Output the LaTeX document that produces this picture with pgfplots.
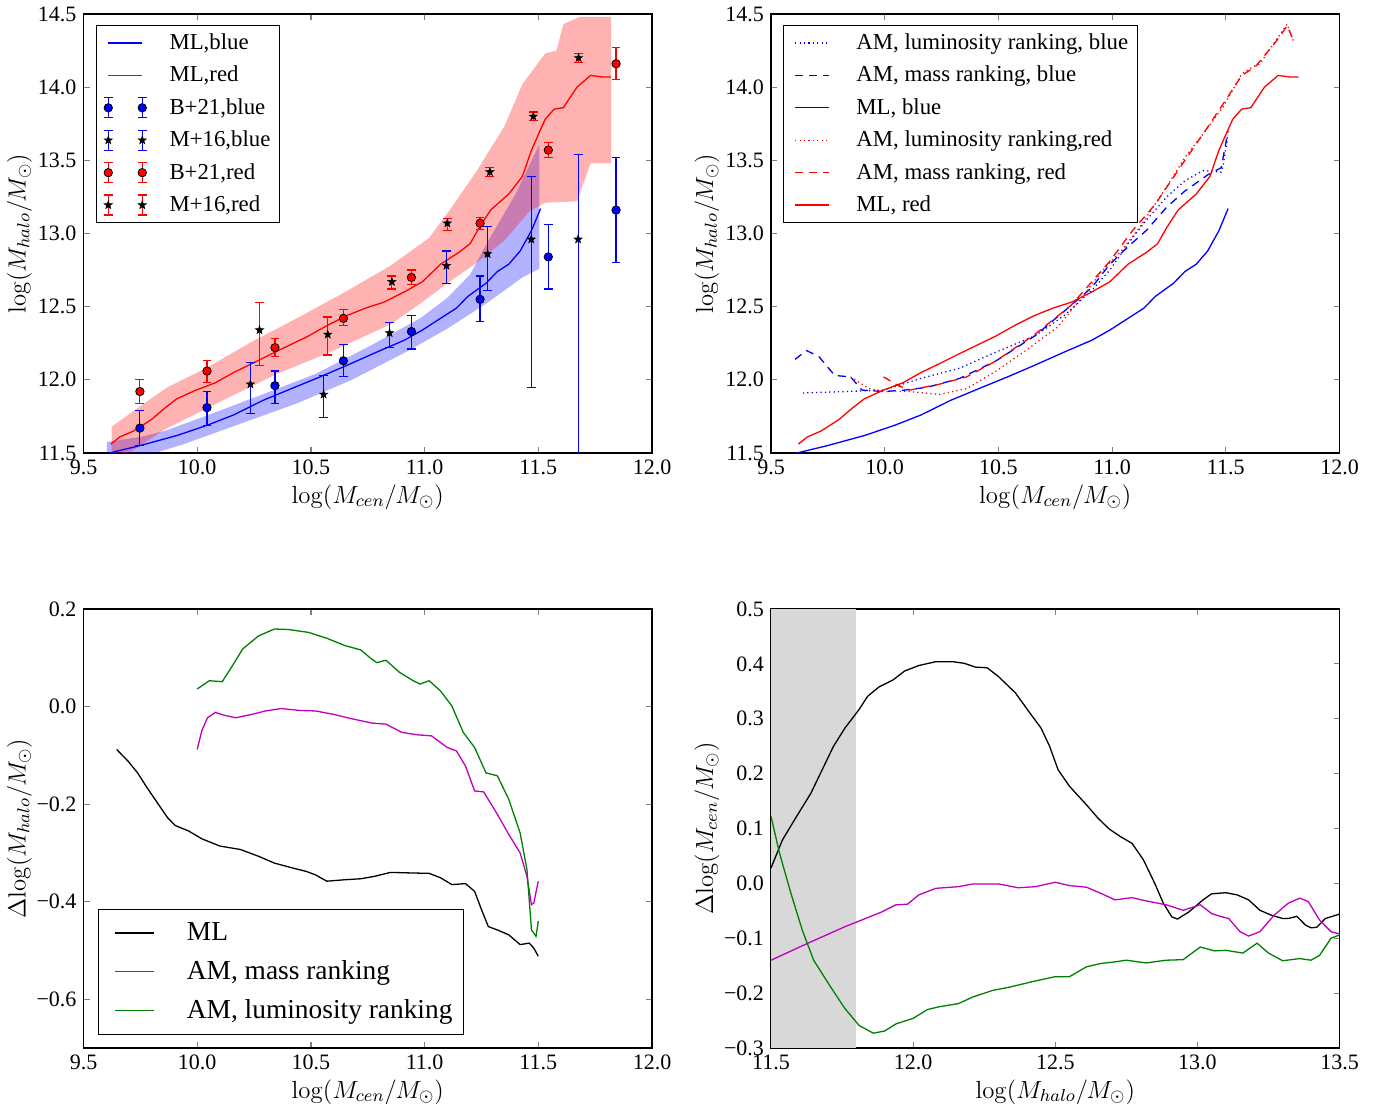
\RequirePackage{fix-cm}
\documentclass[border=0pt]{standalone}
\usepackage[no-math]{fontspec}
\setmainfont{Liberation Serif}
\usepackage{pgfplots}
\pgfplotsset{compat=1.18}
\definecolor{mplgreen}{rgb}{0,0.5,0}
\definecolor{mplmag}{rgb}{0.75,0,0.75}
\definecolor{bandgray}{RGB}{216,216,216}
\newcommand\lbl[1]{\fontsize{12.4}{15}\selectfont$#1$}
\pgfdeclareplotmark{fstar}{%
  \pgfpathmoveto{\pgfpointpolar{90}{\pgfplotmarksize}}%
  \pgfpathlineto{\pgfpointpolar{126}{0.4\pgfplotmarksize}}%
  \pgfpathlineto{\pgfpointpolar{162}{\pgfplotmarksize}}%
  \pgfpathlineto{\pgfpointpolar{198}{0.4\pgfplotmarksize}}%
  \pgfpathlineto{\pgfpointpolar{234}{\pgfplotmarksize}}%
  \pgfpathlineto{\pgfpointpolar{270}{0.4\pgfplotmarksize}}%
  \pgfpathlineto{\pgfpointpolar{306}{\pgfplotmarksize}}%
  \pgfpathlineto{\pgfpointpolar{342}{0.4\pgfplotmarksize}}%
  \pgfpathlineto{\pgfpointpolar{18}{\pgfplotmarksize}}%
  \pgfpathlineto{\pgfpointpolar{54}{0.4\pgfplotmarksize}}%
  \pgfpathclose
  \pgfusepathqfillstroke
}
\pgfplotsset{
  legend image code/.code={\path (-3pt,0pt); \draw[#1] (0pt,0pt) -- (17pt,0pt); \path (28.3pt,0pt);},
  leg3/.style={legend image code/.code={\path (-4.5pt,0pt); \draw[##1] (0pt,0pt) -- (19.5pt,0pt); \path (33.5pt,0pt);}},
  ebars/.style={draw=none, mark=none, forget plot,
    error bars/.cd, y dir=both, y explicit,
    error bar style={draw=#1, line width=0.6pt},
    error mark options={rotate=90, draw=#1, mark size=2.2pt, line width=0.6pt}},
  every axis/.append style={
    scale only axis,
    width=284.25pt, height=219.5pt,
    axis line style={line width=0.6pt},
    tick style={line width=0.6pt},
    major tick length=3pt,
    tick label style={font=\fontsize{11}{13}\selectfont},
    every axis x label/.style={at={(axis description cs:0.5,0)}, yshift=-22pt, anchor=center},
    every axis y label/.style={at={(axis description cs:0,0.5)}, xshift=-32pt, rotate=90, anchor=center},
    legend cell align=left,
    legend style={draw=black, line width=0.6pt, font=\fontsize{11.4}{13.5}\selectfont, inner xsep=2.5pt, inner ysep=2pt, row sep=2.8pt, nodes={inner sep=2pt}},
  },
  every axis plot/.append style={line width=0.65pt},
}
\begin{document}
\begin{tikzpicture}
\useasboundingbox (0pt,0pt) rectangle (692.5pt,554pt);

%% ---------------- Panel 1 ----------------
\begin{axis}[at={(41.75pt,327.5pt)}, anchor=south west,
  xmin=9.5, xmax=12, ymin=11.5, ymax=14.5,
  xtick={9.5,10,10.5,11,11.5,12}, xticklabels={9.5,10.0,10.5,11.0,11.5,12.0},
  ytick={11.5,12,12.5,13,13.5,14,14.5}, yticklabels={11.5,12.0,12.5,13.0,13.5,14.0,14.5},
  xlabel={\lbl{\log(M_{cen}/M_\odot)}}, ylabel={\lbl{\log(M_{halo}/M_\odot)}},
  legend style={at={(0.022,0.975)}, anchor=north west},
]
\addplot[draw=none, fill=blue, fill opacity=0.3, forget plot] coordinates {
(9.603,11.575) (9.75,11.61) (9.856,11.65) (10.05,11.76) (10.27,11.89) (10.52,12.04) (10.77,12.24) (10.98,12.42) (11.10,12.56) (11.20,12.72) (11.28,12.95) (11.40,13.27) (11.505,13.61)
(11.505,12.76) (11.43,12.70) (11.27,12.52) (11.10,12.35) (10.93,12.20) (10.68,12.00) (10.44,11.84) (10.19,11.70) (9.94,11.56) (9.75,11.47) (9.603,11.40)
} -- cycle;
\addplot[draw=none, fill=red, fill opacity=0.3, forget plot] coordinates {
(9.624,11.68) (9.75,11.82) (9.87,11.95) (10.04,12.08) (10.24,12.26) (10.45,12.43) (10.65,12.60) (10.85,12.78) (11.02,12.97) (11.12,13.18) (11.23,13.43) (11.35,13.73) (11.43,14.02) (11.53,14.23) (11.58,14.25) (11.61,14.43) (11.68,14.48) (11.82,14.48)
(11.82,13.48) (11.73,13.48) (11.67,13.22) (11.53,13.21) (11.46,13.15) (11.35,12.95) (11.22,12.79) (11.10,12.66) (10.98,12.52) (10.85,12.38) (10.60,12.20) (10.35,12.04) (10.10,11.85) (9.856,11.66) (9.72,11.52) (9.624,11.43)
} -- cycle;
\addplot[draw=blue] coordinates {
(9.614,11.50) (9.747,11.55) (9.912,11.62) (10.045,11.69) (10.16,11.76) (10.29,11.86) (10.43,11.95) (10.54,12.02) (10.66,12.10) (10.79,12.19) (10.91,12.27) (10.99,12.34) (11.07,12.42) (11.14,12.49) (11.19,12.57) (11.27,12.66) (11.32,12.74) (11.37,12.79) (11.42,12.88) (11.47,13.02) (11.51,13.17)
};
\addlegendentry{ML,blue}
\addplot[draw=red] coordinates {
(9.62,11.56) (9.66,11.61) (9.72,11.65) (9.80,11.73) (9.86,11.81) (9.91,11.87) (9.995,11.93) (10.08,11.98) (10.16,12.05) (10.24,12.11) (10.33,12.18) (10.41,12.24) (10.49,12.30) (10.57,12.37) (10.66,12.44) (10.74,12.49) (10.82,12.53) (10.91,12.60) (10.99,12.67) (11.07,12.79) (11.15,12.87) (11.20,12.93) (11.24,13.04) (11.29,13.16) (11.37,13.27) (11.43,13.39) (11.47,13.57) (11.53,13.78) (11.57,13.85) (11.61,13.86) (11.67,14.00) (11.73,14.08) (11.78,14.07) (11.82,14.07)
};
\addlegendentry{ML,red}
\pgfplotstableread{
x y ep em
9.748 11.67 0.12 0.12
10.043 11.81 0.11 0.12
10.342 11.96 0.10 0.12
10.643 12.13 0.11 0.11
10.942 12.33 0.11 0.12
11.244 12.55 0.16 0.15
11.544 12.84 0.22 0.22
11.842 13.16 0.36 0.36
}\Bblue
\pgfplotstableread{
x y ep em
10.234 11.97 0.15 0.20
10.556 11.90 0.13 0.16
10.846 12.32 0.07 0.10
11.096 12.78 0.10 0.12
11.277 12.86 0.19 0.25
11.469 12.96 0.43 1.01
11.675 12.96 0.58 2.00
}\Mblue
\pgfplotstableread{
x y ep em
9.748 11.92 0.08 0.08
10.043 12.06 0.07 0.08
10.342 12.22 0.06 0.06
10.643 12.42 0.06 0.05
10.942 12.70 0.05 0.05
11.244 13.07 0.04 0.04
11.544 13.57 0.05 0.05
11.842 14.16 0.11 0.11
}\Bred
\pgfplotstableread{
x y ep em
10.274 12.34 0.19 0.24
10.574 12.31 0.12 0.14
10.856 12.67 0.04 0.05
11.100 13.07 0.03 0.05
11.287 13.42 0.03 0.03
11.478 13.80 0.03 0.03
11.677 14.20 0.03 0.03
}\Mred
\addplot[ebars=blue] table[x=x, y=y, y error plus=ep, y error minus=em] {\Bblue};
\addplot[ebars=blue] table[x=x, y=y, y error plus=ep, y error minus=em] {\Mblue};
\addplot[ebars=red] table[x=x, y=y, y error plus=ep, y error minus=em] {\Bred};
\addplot[ebars=red] table[x=x, y=y, y error plus=ep, y error minus=em] {\Mred};
\addplot[only marks, mark=*, mark size=2.1pt, mark options={fill=blue, draw=black, line width=0.4pt},
  legend image code/.code={\path (-3pt,0pt);
    \draw[draw=blue,line width=0.6pt] (0pt,-5pt) -- (0pt,5pt) (-2.2pt,-5pt) -- (2.2pt,-5pt) (-2.2pt,5pt) -- (2.2pt,5pt) (17pt,-5pt) -- (17pt,5pt) (14.8pt,-5pt) -- (19.2pt,-5pt) (14.8pt,5pt) -- (19.2pt,5pt);
    \filldraw[fill=blue,draw=black,line width=0.4pt] (0pt,0pt) circle (2.1pt) (17pt,0pt) circle (2.1pt);
    \path (28.3pt,0pt);}]
  table[x=x, y=y] {\Bblue};
\addlegendentry{B+21,blue}
\addplot[only marks, mark=fstar, mark size=2.1pt, mark options={fill=black, draw=black, line width=0.3pt},
  legend image code/.code={\path (-3pt,0pt);
    \draw[draw=blue,line width=0.6pt] (0pt,-5pt) -- (0pt,5pt) (-2.2pt,-5pt) -- (2.2pt,-5pt) (-2.2pt,5pt) -- (2.2pt,5pt) (17pt,-5pt) -- (17pt,5pt) (14.8pt,-5pt) -- (19.2pt,-5pt) (14.8pt,5pt) -- (19.2pt,5pt);
    \begin{scope}\pgfsetfillcolor{black}\pgfsetstrokecolor{black}\pgfsetlinewidth{0.3pt}\pgfsetplotmarksize{2.1pt}\pgfuseplotmark{fstar}\end{scope}
    \begin{scope}[xshift=17pt]\pgfsetfillcolor{black}\pgfsetstrokecolor{black}\pgfsetlinewidth{0.3pt}\pgfsetplotmarksize{2.1pt}\pgfuseplotmark{fstar}\end{scope}
    \path (28.3pt,0pt);}]
  table[x=x, y=y] {\Mblue};
\addlegendentry{M+16,blue}
\addplot[only marks, mark=*, mark size=2.1pt, mark options={fill=red, draw=black, line width=0.4pt},
  legend image code/.code={\path (-3pt,0pt);
    \draw[draw=red,line width=0.6pt] (0pt,-5pt) -- (0pt,5pt) (-2.2pt,-5pt) -- (2.2pt,-5pt) (-2.2pt,5pt) -- (2.2pt,5pt) (17pt,-5pt) -- (17pt,5pt) (14.8pt,-5pt) -- (19.2pt,-5pt) (14.8pt,5pt) -- (19.2pt,5pt);
    \filldraw[fill=red,draw=black,line width=0.4pt] (0pt,0pt) circle (2.1pt) (17pt,0pt) circle (2.1pt);
    \path (28.3pt,0pt);}]
  table[x=x, y=y] {\Bred};
\addlegendentry{B+21,red}
\addplot[only marks, mark=fstar, mark size=2.1pt, mark options={fill=black, draw=black, line width=0.3pt},
  legend image code/.code={\path (-3pt,0pt);
    \draw[draw=red,line width=0.6pt] (0pt,-5pt) -- (0pt,5pt) (-2.2pt,-5pt) -- (2.2pt,-5pt) (-2.2pt,5pt) -- (2.2pt,5pt) (17pt,-5pt) -- (17pt,5pt) (14.8pt,-5pt) -- (19.2pt,-5pt) (14.8pt,5pt) -- (19.2pt,5pt);
    \begin{scope}\pgfsetfillcolor{black}\pgfsetstrokecolor{black}\pgfsetlinewidth{0.3pt}\pgfsetplotmarksize{2.1pt}\pgfuseplotmark{fstar}\end{scope}
    \begin{scope}[xshift=17pt]\pgfsetfillcolor{black}\pgfsetstrokecolor{black}\pgfsetlinewidth{0.3pt}\pgfsetplotmarksize{2.1pt}\pgfuseplotmark{fstar}\end{scope}
    \path (28.3pt,0pt);}]
  table[x=x, y=y] {\Mred};
\addlegendentry{M+16,red}
\end{axis}

%% ---------------- Panel 2 ----------------
\begin{axis}[at={(385.5pt,327.5pt)}, anchor=south west,
  xmin=9.5, xmax=12, ymin=11.5, ymax=14.5,
  xtick={9.5,10,10.5,11,11.5,12}, xticklabels={9.5,10.0,10.5,11.0,11.5,12.0},
  ytick={11.5,12,12.5,13,13.5,14,14.5}, yticklabels={11.5,12.0,12.5,13.0,13.5,14.0,14.5},
  xlabel={\lbl{\log(M_{cen}/M_\odot)}}, ylabel={\lbl{\log(M_{halo}/M_\odot)}},
  legend style={at={(0.021,0.975)}, anchor=north west},
]
\addplot[draw=blue, dash pattern=on 0.6pt off 1.6pt] coordinates {
(9.64,11.91) (9.83,11.92) (9.995,11.93) (10.16,12.01) (10.33,12.08) (10.49,12.19) (10.66,12.30) (10.79,12.44) (10.91,12.61) (10.99,12.75) (11.07,12.93) (11.15,13.09) (11.24,13.25) (11.32,13.36) (11.40,13.43) (11.48,13.42) (11.49,13.48) (11.51,13.68)
};
\addlegendentry{AM, luminosity ranking, blue}
\addplot[draw=blue, dash pattern=on 4pt off 3pt] coordinates {
(9.606,12.14) (9.656,12.20) (9.71,12.16) (9.78,12.03) (9.85,12.02) (9.90,11.93) (9.995,11.92) (10.09,11.93) (10.19,11.95) (10.33,12.01) (10.49,12.13) (10.66,12.30) (10.79,12.47) (10.91,12.63) (10.99,12.79) (11.07,12.91) (11.15,13.02) (11.24,13.18) (11.32,13.29) (11.42,13.40) (11.48,13.45) (11.51,13.70)
};
\addlegendentry{AM, mass ranking, blue}
\addplot[draw=blue] coordinates {
(9.614,11.50) (9.747,11.55) (9.912,11.62) (10.045,11.69) (10.16,11.76) (10.29,11.86) (10.43,11.95) (10.54,12.02) (10.66,12.10) (10.79,12.19) (10.91,12.27) (10.99,12.34) (11.07,12.42) (11.14,12.49) (11.19,12.57) (11.27,12.66) (11.32,12.74) (11.37,12.79) (11.42,12.88) (11.47,13.02) (11.51,13.17)
};
\addlegendentry{ML, blue}
\addplot[draw=red, dash pattern=on 0.6pt off 1.6pt] coordinates {
(9.85,12.02) (9.93,11.94) (9.995,11.92) (10.11,11.92) (10.24,11.90) (10.36,11.94) (10.49,12.06) (10.62,12.20) (10.76,12.36) (10.87,12.57) (10.96,12.75) (11.04,12.88) (11.12,13.04) (11.24,13.32) (11.32,13.52) (11.40,13.68) (11.49,13.87) (11.57,14.09) (11.62,14.14) (11.65,14.16) (11.72,14.32) (11.77,14.43) (11.80,14.30)
};
\addlegendentry{AM, luminosity ranking,red}
\addplot[draw=red, dash pattern=on 4pt off 3pt] coordinates {
(9.995,12.02) (10.06,11.96) (10.11,11.93) (10.24,11.97) (10.36,12.02) (10.49,12.13) (10.66,12.31) (10.82,12.51) (10.99,12.81) (11.09,13.02) (11.19,13.20) (11.32,13.50) (11.40,13.68) (11.49,13.89) (11.57,14.08) (11.63,14.14) (11.72,14.31) (11.77,14.42) (11.80,14.31)
};
\addlegendentry{AM, mass ranking, red}
\addplot[draw=red] coordinates {
(9.62,11.56) (9.66,11.61) (9.72,11.65) (9.80,11.73) (9.86,11.81) (9.91,11.87) (9.995,11.93) (10.08,11.98) (10.16,12.05) (10.24,12.11) (10.33,12.18) (10.41,12.24) (10.49,12.30) (10.57,12.37) (10.66,12.44) (10.74,12.49) (10.82,12.53) (10.91,12.60) (10.99,12.67) (11.07,12.79) (11.15,12.87) (11.20,12.93) (11.24,13.04) (11.29,13.16) (11.37,13.27) (11.43,13.39) (11.47,13.57) (11.53,13.78) (11.57,13.85) (11.61,13.86) (11.67,14.00) (11.73,14.08) (11.78,14.07) (11.82,14.07)
};
\addlegendentry{ML, red}
\end{axis}

%% ---------------- Panel 3 ----------------
\begin{axis}[at={(41.75pt,30pt)}, anchor=south west,
  xmin=9.5, xmax=12, ymin=-0.7, ymax=0.2,
  xtick={9.5,10,10.5,11,11.5,12}, xticklabels={9.5,10.0,10.5,11.0,11.5,12.0},
  ytick={-0.6,-0.4,-0.2,0,0.2}, yticklabels={−0.6,−0.4,−0.2,0.0,0.2},
  xlabel={\lbl{\log(M_{cen}/M_\odot)}}, ylabel={\lbl{\Delta\!\log(M_{halo}/M_\odot)}},
  legend style={at={(0.0255,0.03)}, anchor=south west, font=\fontsize{13.7}{16}\selectfont, inner xsep=3.5pt, inner ysep=4.5pt, row sep=4.45pt},
  leg3,
]
\addplot[draw=black] coordinates {
(9.646,-0.088) (9.696,-0.112) (9.738,-0.136) (9.779,-0.166) (9.82,-0.194) (9.87,-0.228) (9.904,-0.244) (9.962,-0.255) (10.02,-0.271) (10.10,-0.286) (10.19,-0.293) (10.27,-0.307) (10.34,-0.321) (10.42,-0.331) (10.48,-0.338) (10.52,-0.345) (10.57,-0.358) (10.65,-0.355) (10.72,-0.353) (10.78,-0.348) (10.85,-0.340) (10.93,-0.341) (11.02,-0.342) (11.07,-0.351) (11.12,-0.365) (11.18,-0.363) (11.22,-0.379) (11.25,-0.416) (11.28,-0.451) (11.32,-0.458) (11.37,-0.468) (11.42,-0.488) (11.46,-0.485) (11.48,-0.495) (11.50,-0.512)
};
\addlegendentry{ML}
\addplot[draw=mplmag] coordinates {
(10.0,-0.088) (10.02,-0.05) (10.045,-0.023) (10.08,-0.012) (10.12,-0.018) (10.17,-0.023) (10.24,-0.016) (10.30,-0.009) (10.37,-0.004) (10.45,-0.008) (10.52,-0.009) (10.60,-0.016) (10.68,-0.025) (10.77,-0.034) (10.83,-0.036) (10.90,-0.053) (10.97,-0.058) (11.03,-0.060) (11.10,-0.084) (11.14,-0.091) (11.18,-0.122) (11.22,-0.173) (11.26,-0.175) (11.32,-0.221) (11.37,-0.262) (11.42,-0.300) (11.45,-0.348) (11.47,-0.406) (11.48,-0.403) (11.50,-0.358)
};
\addlegendentry{AM, mass ranking}
\addplot[draw=mplgreen] coordinates {
(10.0,0.036) (10.053,0.053) (10.11,0.051) (10.15,0.080) (10.20,0.118) (10.27,0.145) (10.34,0.159) (10.40,0.158) (10.49,0.152) (10.57,0.140) (10.65,0.125) (10.72,0.116) (10.76,0.100) (10.79,0.090) (10.83,0.095) (10.89,0.070) (10.95,0.053) (10.98,0.046) (11.02,0.053) (11.07,0.032) (11.12,0.001) (11.17,-0.053) (11.22,-0.084) (11.27,-0.136) (11.32,-0.142) (11.37,-0.190) (11.42,-0.259) (11.45,-0.334) (11.47,-0.458) (11.49,-0.471) (11.50,-0.440)
};
\addlegendentry{AM, luminosity ranking}
\end{axis}

%% ---------------- Panel 4 ----------------
\begin{axis}[at={(385.5pt,30pt)}, anchor=south west,
  xmin=11.5, xmax=13.5, ymin=-0.3, ymax=0.5,
  xtick={11.5,12,12.5,13,13.5}, xticklabels={11.5,12.0,12.5,13.0,13.5},
  ytick={-0.3,-0.2,-0.1,0,0.1,0.2,0.3,0.4,0.5}, yticklabels={−0.3,−0.2,−0.1,0.0,0.1,0.2,0.3,0.4,0.5},
  xlabel={\lbl{\log(M_{halo}/M_\odot)}}, ylabel={\lbl{\Delta\!\log(M_{cen}/M_\odot)}},
]
\addplot[draw=none, fill=bandgray, forget plot] coordinates {(11.5,-0.3) (11.8,-0.3) (11.8,0.5) (11.5,0.5)} -- cycle;
\addplot[draw=black] coordinates {
(11.5,0.028) (11.54,0.079) (11.59,0.122) (11.64,0.164) (11.68,0.207) (11.72,0.25) (11.76,0.283) (11.81,0.317) (11.84,0.341) (11.88,0.358) (11.93,0.371) (11.97,0.387) (12.02,0.397) (12.08,0.404) (12.14,0.404) (12.18,0.401) (12.22,0.394) (12.26,0.393) (12.30,0.377) (12.36,0.347) (12.41,0.311) (12.45,0.283) (12.48,0.25) (12.51,0.207) (12.55,0.177) (12.61,0.143) (12.65,0.119) (12.69,0.099) (12.73,0.085) (12.77,0.073) (12.81,0.043) (12.85,0.0) (12.88,-0.036) (12.91,-0.061) (12.93,-0.065) (12.97,-0.052) (13.02,-0.03) (13.05,-0.019) (13.10,-0.017) (13.14,-0.021) (13.18,-0.03) (13.22,-0.049) (13.26,-0.058) (13.30,-0.064) (13.32,-0.064) (13.35,-0.06) (13.38,-0.076) (13.40,-0.081) (13.42,-0.08) (13.45,-0.064) (13.50,-0.056)
};
\addplot[draw=mplmag] coordinates {
(11.5,-0.14) (11.63,-0.109) (11.76,-0.079) (11.89,-0.052) (11.94,-0.039) (11.98,-0.038) (12.02,-0.021) (12.08,-0.009) (12.16,-0.006) (12.21,-0.001) (12.30,-0.001) (12.37,-0.008) (12.43,-0.006) (12.50,0.002) (12.55,-0.004) (12.61,-0.007) (12.66,-0.018) (12.71,-0.03) (12.77,-0.026) (12.82,-0.032) (12.89,-0.039) (12.95,-0.049) (13.01,-0.039) (13.05,-0.055) (13.08,-0.06) (13.11,-0.064) (13.15,-0.088) (13.18,-0.096) (13.22,-0.088) (13.27,-0.058) (13.32,-0.036) (13.36,-0.027) (13.39,-0.033) (13.43,-0.067) (13.47,-0.088) (13.50,-0.092)
};
\addplot[draw=mplgreen] coordinates {
(11.5,0.122) (11.53,0.055) (11.57,-0.018) (11.61,-0.085) (11.65,-0.14) (11.71,-0.189) (11.76,-0.228) (11.81,-0.259) (11.86,-0.273) (11.90,-0.269) (11.94,-0.256) (12.0,-0.246) (12.05,-0.23) (12.09,-0.225) (12.16,-0.219) (12.21,-0.207) (12.28,-0.195) (12.34,-0.189) (12.42,-0.179) (12.50,-0.17) (12.55,-0.17) (12.61,-0.152) (12.66,-0.146) (12.71,-0.143) (12.75,-0.14) (12.82,-0.145) (12.89,-0.14) (12.95,-0.139) (13.01,-0.116) (13.06,-0.123) (13.10,-0.122) (13.16,-0.127) (13.21,-0.109) (13.25,-0.127) (13.30,-0.141) (13.36,-0.137) (13.40,-0.14) (13.43,-0.131) (13.47,-0.1) (13.50,-0.094)
};
\end{axis}
\end{tikzpicture}
\end{document}
